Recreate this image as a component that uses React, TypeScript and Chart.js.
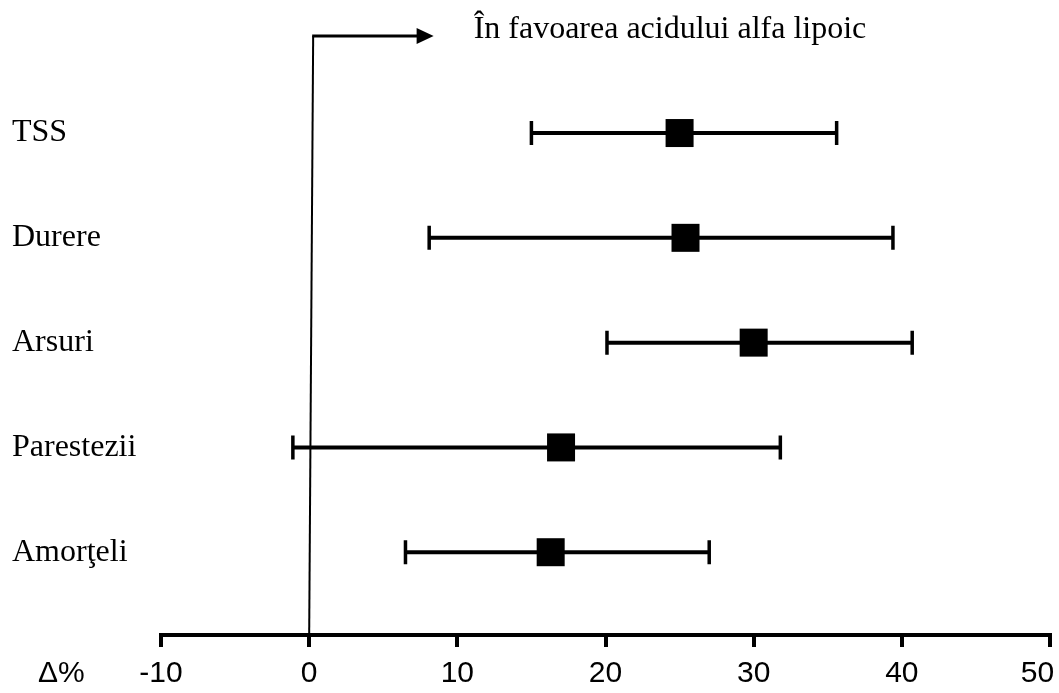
import React, { useEffect, useRef } from 'react';
import { Chart, registerables } from 'chart.js';

Chart.register(...registerables);

// ---- data ----
const CATEGORIES = ['TSS', 'Durere', 'Arsuri', 'Parestezii', 'Amorţeli'];
const MEAN = [25.0, 25.4, 30.0, 17.0, 16.3];
const LOW = [15.0, 8.1, 20.1, -1.1, 6.5];
const HIGH = [35.6, 39.4, 40.7, 31.8, 27.0];
const X_TICKS = [-10, 0, 10, 20, 30, 40, 50];
const X_UNIT_LABEL = 'Δ%';
const FAVOUR_LABEL = 'În favoarea acidului alfa lipoic';
const ARROW_END = 8.4;

const SERIF = "'Liberation Serif', 'Times New Roman', serif";
const SANS = "'Liberation Sans', Arial, sans-serif";

const errorBarPlugin = {
  id: 'errorBars',
  beforeDatasetsDraw(chart: any) {
    const { ctx, scales } = chart;
    const xs = scales.x;
    const ys = scales.y;
    ctx.save();
    ctx.strokeStyle = '#000';
    for (let i = 0; i < CATEGORIES.length; i++) {
      const y = ys.getPixelForValue(i);
      const x1 = xs.getPixelForValue(LOW[i]);
      const x2 = xs.getPixelForValue(HIGH[i]);
      ctx.lineWidth = 4;
      ctx.beginPath();
      ctx.moveTo(x1, y);
      ctx.lineTo(x2, y);
      ctx.stroke();
      ctx.lineWidth = 3.5;
      ctx.beginPath();
      ctx.moveTo(x1, y - 12);
      ctx.lineTo(x1, y + 12);
      ctx.moveTo(x2, y - 12);
      ctx.lineTo(x2, y + 12);
      ctx.stroke();
    }
    ctx.restore();
  },
};

const decorPlugin = {
  id: 'decor',
  afterDraw(chart: any) {
    const { ctx, scales, chartArea } = chart;
    const xs = scales.x;
    const x0 = xs.getPixelForValue(0);
    const top = chartArea.top;
    const bottom = chartArea.bottom;
    const xTop = x0 + 4;
    const tip = xs.getPixelForValue(ARROW_END);
    ctx.save();
    ctx.strokeStyle = '#000';
    ctx.fillStyle = '#000';
    // zero line
    ctx.lineWidth = 2;
    ctx.beginPath();
    ctx.moveTo(x0, bottom);
    ctx.lineTo(xTop, top);
    ctx.stroke();
    // arrow shaft
    ctx.lineWidth = 3;
    ctx.beginPath();
    ctx.moveTo(xTop - 1, top);
    ctx.lineTo(tip - 14, top);
    ctx.stroke();
    // arrow head
    ctx.beginPath();
    ctx.moveTo(tip, top);
    ctx.lineTo(tip - 17, top - 8);
    ctx.lineTo(tip - 17, top + 8);
    ctx.closePath();
    ctx.fill();
    // favour label
    ctx.font = `32px ${SERIF}`;
    ctx.textAlign = 'left';
    ctx.textBaseline = 'alphabetic';
    ctx.fillText(FAVOUR_LABEL, tip + 40, top + 2);
    // unit label
    ctx.font = `30px ${SANS}`;
    ctx.textBaseline = 'middle';
    ctx.fillText(X_UNIT_LABEL, 38, xs.top + 12 + 9 + 18);
    ctx.restore();
  },
};

export default function App() {
  const ref = useRef<HTMLCanvasElement | null>(null);

  useEffect(() => {
    if (!ref.current) return;
    const lastTick = X_TICKS[X_TICKS.length - 1];
    const chart = new Chart(ref.current, {
      type: 'scatter',
      data: {
        datasets: [
          {
            data: MEAN.map((m, i) => ({ x: m, y: i })),
            pointStyle: 'rect',
            pointRadius: 19.8,
            pointHoverRadius: 19.8,
            backgroundColor: '#000',
            borderColor: '#000',
            borderWidth: 0,
            showLine: false,
          },
        ],
      },
      options: {
        animation: false,
        responsive: false,
        devicePixelRatio: 1,
        events: [],
        layout: { padding: { left: 12, right: 40, top: 36, bottom: 2 } },
        plugins: {
          legend: { display: false },
          tooltip: { enabled: false },
          title: { display: false },
        },
        scales: {
          x: {
            type: 'linear',
            min: -10,
            max: 50,
            afterBuildTicks: (scale: any) => {
              scale.ticks = X_TICKS.map((v) => ({ value: v }));
            },
            afterFit: (scale: any) => {
              scale.height = 56;
            },
            grid: {
              drawOnChartArea: false,
              drawTicks: true,
              tickLength: 12,
              tickWidth: 4,
              tickColor: '#000',
              color: '#000',
              lineWidth: 4,
            },
            border: { display: true, color: '#000', width: 4 },
            ticks: {
              color: '#000',
              padding: 9,
              font: { family: SANS, size: 30 },
              maxRotation: 0,
              autoSkip: false,
              // the last label sits slightly left of its tick, as in the original figure
              callback: (v: any) => (Number(v) === lastTick ? `${v}   ` : `${v}`),
            },
          },
          y: {
            type: 'linear',
            reverse: true,
            min: -0.926,
            max: 4.79,
            afterBuildTicks: (scale: any) => {
              scale.ticks = CATEGORIES.map((_, i) => ({ value: i }));
            },
            afterFit: (scale: any) => {
              scale.width = 149;
            },
            grid: { display: false, drawTicks: false },
            border: { display: false },
            ticks: {
              color: '#000',
              padding: 0,
              crossAlign: 'far',
              autoSkip: false,
              font: { family: SERIF, size: 32 },
              callback: (v: any) => CATEGORIES[Number(v)] ?? '',
            },
          },
        },
      },
      plugins: [errorBarPlugin, decorPlugin],
    } as any);
    return () => chart.destroy();
  }, []);

  return (
    <div
      style={{
        position: 'fixed',
        left: 0,
        top: 0,
        width: 1059,
        height: 693,
        overflow: 'hidden',
        background: '#fff',
      }}
    >
      <canvas ref={ref} width={1090} height={693} style={{ display: 'block' }} />
    </div>
  );
}
